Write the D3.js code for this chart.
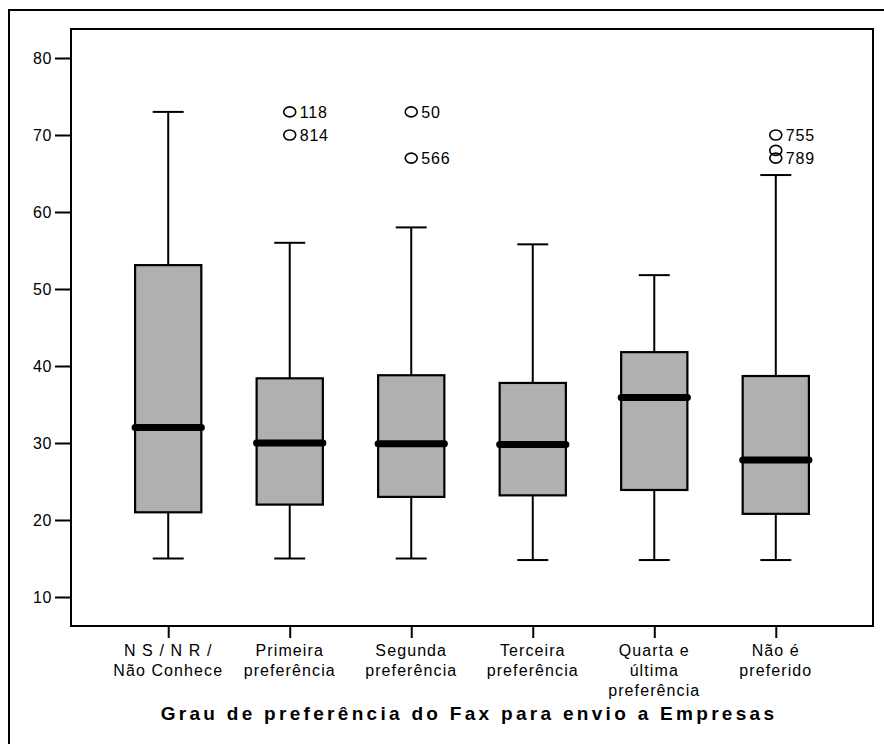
<!DOCTYPE html>
<html>
<head>
<meta charset="utf-8">
<script src="https://cdn.jsdelivr.net/npm/d3@7"></script>
<style>
  html, body { margin: 0; padding: 0; background: #fff; }
  svg { display: block; }
  text { font-family: "Liberation Sans", Arial, sans-serif; fill: #000; }
</style>
</head>
<body>
<svg id="chart" width="884" height="744"></svg>
<script>
// ---- data ----
const categories = [
  ["N S / N R /", "Não Conhece"],
  ["Primeira", "preferência"],
  ["Segunda", "preferência"],
  ["Terceira", "preferência"],
  ["Quarta e", "última", "preferência"],
  ["Não é", "preferido"]
];
const lowerWhisker = [15, 15, 15, 14.8, 14.8, 14.8];
const q1Values     = [21, 22, 23, 23.2, 23.9, 20.8];
const medianValues = [32, 30, 29.9, 29.8, 35.9, 27.8];
const q3Values     = [53.1, 38.4, 38.8, 37.8, 41.8, 38.7];
const upperWhisker = [73, 56, 58, 55.8, 51.8, 64.8];

const outlierCategory = [1, 1, 2, 2, 5, 5, 5];
const outlierValue    = [73, 70, 73, 67, 70, 68, 67];
const outlierLabel    = ["118", "814", "50", "566", "755", "", "789"];

const yTicks = [10, 20, 30, 40, 50, 60, 70, 80];
const xTitle = "Grau de preferência do Fax para envio a Empresas";

// ---- layout ----
const svg = d3.select("#chart");
const plot = { left: 71, top: 29, right: 873, bottom: 626 };

const x = d3.scalePoint()
  .domain(d3.range(categories.length))
  .range([plot.left, plot.right])
  .padding(0.8);

const y = d3.scaleLinear()
  .domain([10 - (626 - 597) / 7.7, 80 + (58 - 29) / 7.7])
  .range([plot.bottom, plot.top]);

const boxW = x.step() * 0.545;
const capW = x.step() * 0.255;
const medW = boxW + 6;

// outer frame
svg.append("rect")
  .attr("x", 9).attr("y", 10)
  .attr("width", 900).attr("height", 800)
  .attr("fill", "none").attr("stroke", "#000").attr("stroke-width", 2);

// plot frame
svg.append("rect")
  .attr("x", plot.left).attr("y", plot.top)
  .attr("width", plot.right - plot.left).attr("height", plot.bottom - plot.top)
  .attr("fill", "none").attr("stroke", "#000").attr("stroke-width", 2);

// y axis
const yAxis = svg.append("g")
  .attr("transform", `translate(${plot.left},0)`)
  .call(d3.axisLeft(y).tickValues(yTicks).tickSize(16).tickPadding(3).tickFormat(d3.format("d")));
yAxis.select(".domain").remove();
yAxis.selectAll("line").attr("stroke", "#000").attr("stroke-width", 2);
yAxis.selectAll("text")
  .style("font-family", "'Liberation Sans', Arial, sans-serif")
  .style("font-size", "16px")
  .style("letter-spacing", "0.6px")
  .attr("fill", "#000");

// x axis
const xAxis = svg.append("g")
  .attr("transform", `translate(0,${plot.bottom})`)
  .call(d3.axisBottom(x).tickSize(12).tickFormat(""));
xAxis.select(".domain").remove();
xAxis.selectAll("line").attr("stroke", "#000").attr("stroke-width", 2);

// category labels
const labels = svg.append("g");
categories.forEach((lines, i) => {
  const t = labels.append("text")
    .attr("x", x(i))
    .attr("y", 656)
    .attr("text-anchor", "middle")
    .style("font-size", "16px")
    .style("letter-spacing", "1.1px");
  lines.forEach((ln, j) => {
    t.append("tspan").attr("x", x(i)).attr("dy", j === 0 ? 0 : 20).text(ln);
  });
});

// title
svg.append("text")
  .attr("x", (plot.left + plot.right) / 2 - 3)
  .attr("y", 720)
  .attr("text-anchor", "middle")
  .style("font-size", "19px")
  .style("font-weight", "bold")
  .style("letter-spacing", "3.3px")
  .text(xTitle);

// boxes
const idx = d3.range(categories.length);
const g = svg.append("g");

// whiskers
g.selectAll(".wU").data(idx).join("line")
  .attr("x1", i => x(i)).attr("x2", i => x(i))
  .attr("y1", i => y(q3Values[i])).attr("y2", i => y(upperWhisker[i]))
  .attr("stroke", "#000").attr("stroke-width", 2);
g.selectAll(".wL").data(idx).join("line")
  .attr("x1", i => x(i)).attr("x2", i => x(i))
  .attr("y1", i => y(q1Values[i])).attr("y2", i => y(lowerWhisker[i]))
  .attr("stroke", "#000").attr("stroke-width", 2);
g.selectAll(".cU").data(idx).join("line")
  .attr("x1", i => x(i) - capW / 2).attr("x2", i => x(i) + capW / 2)
  .attr("y1", i => y(upperWhisker[i])).attr("y2", i => y(upperWhisker[i]))
  .attr("stroke", "#000").attr("stroke-width", 2);
g.selectAll(".cL").data(idx).join("line")
  .attr("x1", i => x(i) - capW / 2).attr("x2", i => x(i) + capW / 2)
  .attr("y1", i => y(lowerWhisker[i])).attr("y2", i => y(lowerWhisker[i]))
  .attr("stroke", "#000").attr("stroke-width", 2);

// box rects
g.selectAll(".box").data(idx).join("rect")
  .attr("x", i => x(i) - boxW / 2)
  .attr("width", boxW)
  .attr("y", i => y(q3Values[i]))
  .attr("height", i => y(q1Values[i]) - y(q3Values[i]))
  .attr("fill", "#b0b0b0")
  .attr("stroke", "#000").attr("stroke-width", 2.2);

// medians
g.selectAll(".med").data(idx).join("line")
  .attr("x1", i => x(i) - medW / 2 + 3).attr("x2", i => x(i) + medW / 2 - 3)
  .attr("y1", i => y(medianValues[i])).attr("y2", i => y(medianValues[i]))
  .attr("stroke", "#000").attr("stroke-width", 7).attr("stroke-linecap", "round");

// outliers
const oi = d3.range(outlierValue.length);
g.selectAll(".out").data(oi).join("ellipse")
  .attr("cx", i => x(outlierCategory[i]))
  .attr("cy", i => y(outlierValue[i]))
  .attr("rx", 6).attr("ry", 5)
  .attr("fill", "none").attr("stroke", "#000").attr("stroke-width", 1.6);
g.selectAll(".outl").data(oi).join("text")
  .attr("x", i => x(outlierCategory[i]) + 10)
  .attr("y", i => y(outlierValue[i]) + 6)
  .style("font-size", "16px")
  .style("letter-spacing", "0.8px")
  .text(i => outlierLabel[i]);
</script>
</body>
</html>
